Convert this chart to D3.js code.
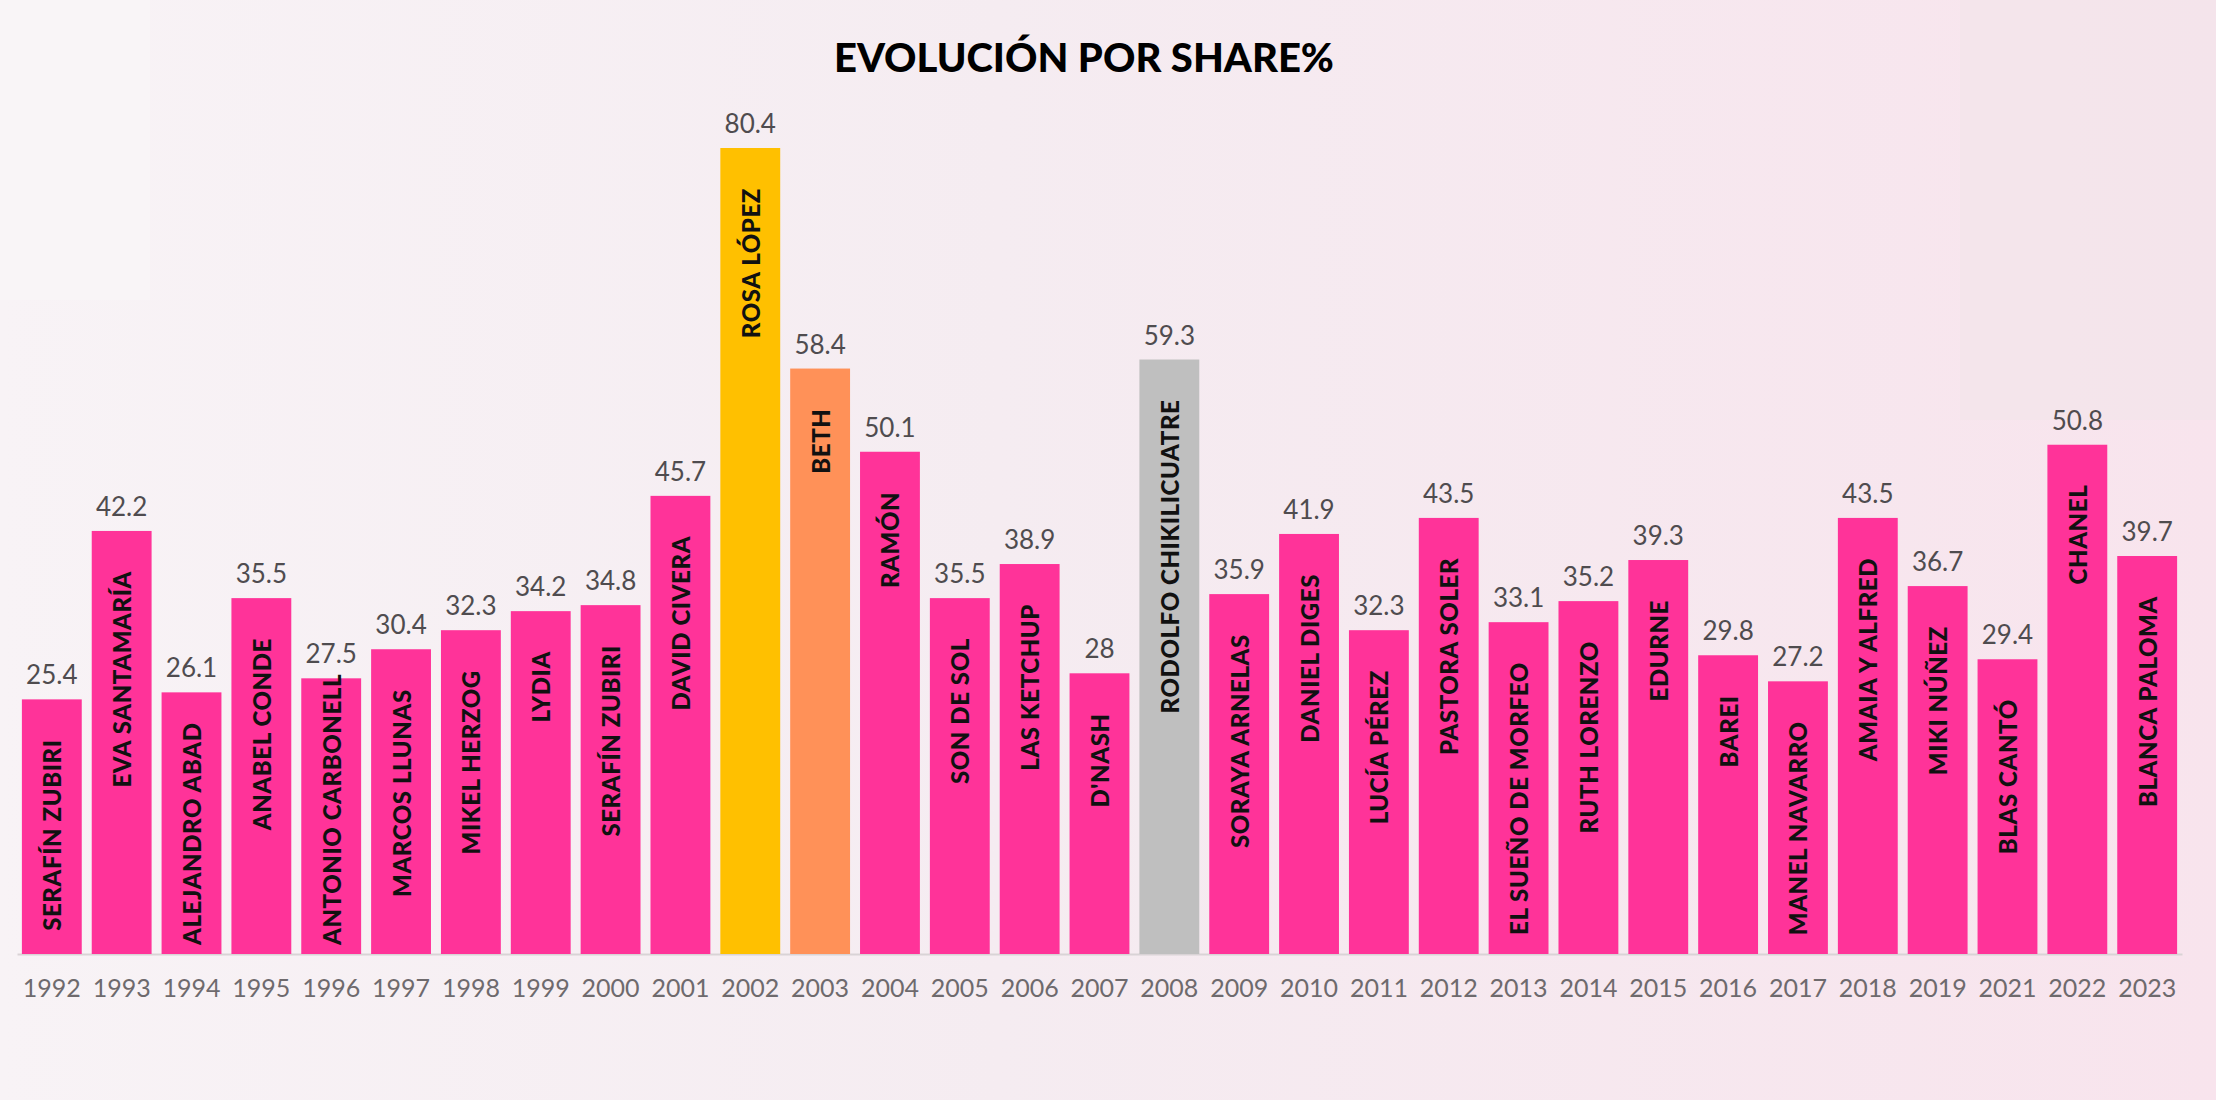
<!DOCTYPE html>
<html>
<head>
<meta charset="utf-8">
<script src="https://cdn.jsdelivr.net/npm/d3@7"></script>
<style>
  html, body { margin: 0; padding: 0; }
  body { width: 2216px; height: 1100px; overflow: hidden; }
</style>
</head>
<body>
<svg id="chart" width="2216" height="1100"></svg>
<script>
// ---- data ----
const years = ["1992","1993","1994","1995","1996","1997","1998","1999","2000","2001","2002","2003","2004","2005","2006","2007","2008","2009","2010","2011","2012","2013","2014","2015","2016","2017","2018","2019","2021","2022","2023"];
const shares = [25.4,42.2,26.1,35.5,27.5,30.4,32.3,34.2,34.8,45.7,80.4,58.4,50.1,35.5,38.9,28,59.3,35.9,41.9,32.3,43.5,33.1,35.2,39.3,29.8,27.2,43.5,36.7,29.4,50.8,39.7];
const artists = ["SERAFÍN ZUBIRI","EVA SANTAMARÍA","ALEJANDRO ABAD","ANABEL CONDE","ANTONIO CARBONELL","MARCOS LLUNAS","MIKEL HERZOG","LYDIA","SERAFÍN ZUBIRI","DAVID CIVERA","ROSA LÓPEZ","BETH","RAMÓN","SON DE SOL","LAS KETCHUP","D'NASH","RODOLFO CHIKILICUATRE","SORAYA ARNELAS","DANIEL DIGES","LUCÍA PÉREZ","PASTORA SOLER","EL SUEÑO DE MORFEO","RUTH LORENZO","EDURNE","BAREI","MANEL NAVARRO","AMAIA Y ALFRED","MIKI NÚÑEZ","BLAS CANTÓ","CHANEL","BLANCA PALOMA"];
const titleText = "EVOLUCIÓN POR SHARE%";

const rows = years.map((y, i) => ({ year: y, share: shares[i], artist: artists[i] }));

// ---- styling ----
const W = 2216, H = 1100;
const colorFor = y => y === "2002" ? "#FFC000" : y === "2003" ? "#FF9158" : y === "2008" ? "#BFBFBF" : "#FF3399";

const svg = d3.select("#chart");

// background
const defs = svg.append("defs");
const bg = defs.append("linearGradient").attr("id", "bg").attr("x1", "0").attr("x2", "1").attr("y1", "0").attr("y2", "0");
bg.append("stop").attr("offset", "0").attr("stop-color", "#F8F3F6");
bg.append("stop").attr("offset", "0.45").attr("stop-color", "#F5ECF1");
bg.append("stop").attr("offset", "1").attr("stop-color", "#F8E4ED");
svg.append("rect").attr("width", W).attr("height", H).attr("fill", "url(#bg)");
svg.append("rect").attr("x", 0).attr("y", 0).attr("width", 150).attr("height", 300).attr("fill", "#FAF6F8").attr("opacity", 0.6);
svg.append("rect").attr("x", 1960).attr("y", 0).attr("width", 256).attr("height", 420).attr("fill", "#F1E4EA").attr("opacity", 0.6);

// scales
const x = d3.scaleBand().domain(years).range([17, 2182]).paddingInner(0.143).paddingOuter(0.07);
const y = d3.scaleLinear().domain([0, 80.4]).range([954, 148]);

// baseline / x axis
const xAxis = d3.axisBottom(x).tickSize(0).tickPadding(25);
const gx = svg.append("g").attr("transform", `translate(0,${y(0)})`).call(xAxis);
gx.select(".domain").attr("stroke", "#D9D3D6").attr("stroke-width", 2);
gx.selectAll("text")
  .attr("font-family", "Lato, 'Open Sans', sans-serif")
  .attr("font-weight", 400)
  .attr("font-size", 25)
  .attr("fill", "#6E6A6D");

// bars
svg.append("g").selectAll("rect").data(rows).join("rect")
  .attr("x", d => x(d.year))
  .attr("y", d => y(d.share))
  .attr("width", x.bandwidth())
  .attr("height", d => y(0) - y(d.share))
  .attr("fill", d => colorFor(d.year));

// value labels
svg.append("g").selectAll("text").data(rows).join("text")
  .attr("x", d => x(d.year) + x.bandwidth() / 2)
  .attr("y", d => y(d.share) - 15)
  .attr("text-anchor", "middle")
  .attr("font-family", "Lato, 'Open Sans', sans-serif")
  .attr("font-weight", 400)
  .attr("font-size", 26)
  .attr("fill", "#4F4C4F")
  .text(d => d3.format("~r")(d.share));

// artist names (rotated inside bars)
const names = svg.append("g").selectAll("text").data(rows).join("text")
  .attr("text-anchor", "start")
  .attr("dominant-baseline", "central")
  .attr("font-family", "Lato, sans-serif")
  .attr("font-weight", 900)
  .attr("font-size", 24)
  .attr("letter-spacing", 0.6)
  .attr("fill", "#111")
  .text(d => d.artist);

names.each(function (d) {
  const len = this.getComputedTextLength();
  const top = y(d.share) + 40;          // preferred upper end of the label
  let bottom = top + len;                // lower end (text reads upward)
  const limit = y(0) - 9;
  if (bottom > limit) bottom = limit;
  d3.select(this).attr("transform", `translate(${x(d.year) + x.bandwidth() / 2},${bottom}) rotate(-90)`);
});

// title
svg.append("text")
  .attr("x", 1084)
  .attr("y", 72)
  .attr("text-anchor", "middle")
  .attr("font-family", "Lato, sans-serif")
  .attr("font-weight", 900)
  .attr("font-size", 40)
  .attr("fill", "#000")
  .text(titleText);
</script>
</body>
</html>
